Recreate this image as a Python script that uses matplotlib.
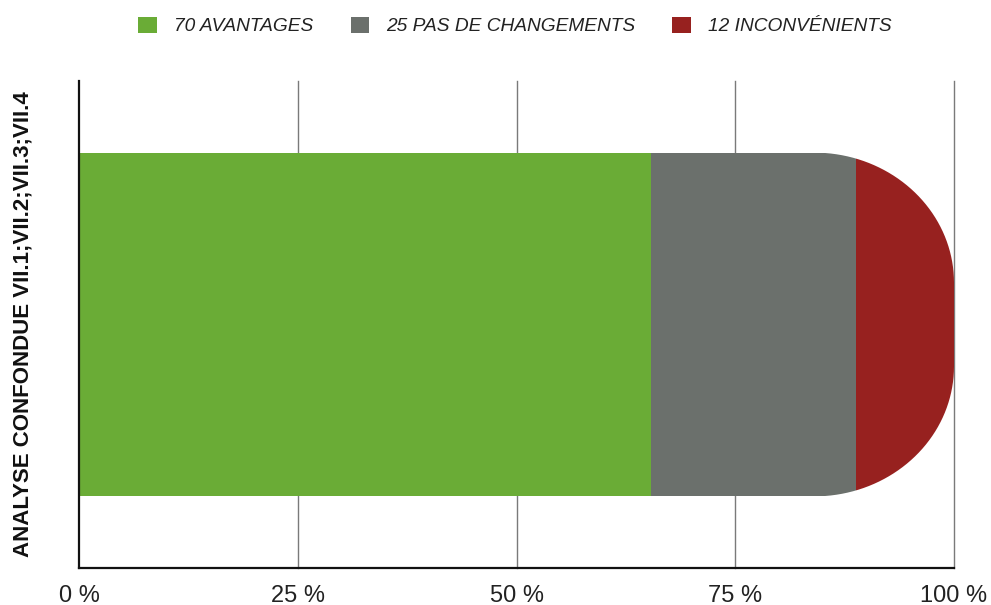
import numpy as np
import matplotlib
matplotlib.use("Agg")
import matplotlib.pyplot as plt
from matplotlib.patches import Patch, PathPatch
from matplotlib.path import Path

plt.rcParams['font.family'] = ['Liberation Sans', 'DejaVu Sans']

category = "ANALYSE CONFONDUE VII.1;VII.2;VII.3;VII.4"
series_labels = ["70 AVANTAGES", "25 PAS DE CHANGEMENTS", "12 INCONVÉNIENTS"]
series_values = [70, 25, 12]
series_colors = ["#6aac36", "#6b706c", "#97211f"]
x_ticks = [0, 25, 50, 75, 100]
x_tick_labels = ["0 %", "25 %", "50 %", "75 %", "100 %"]

W, H = 991, 605
fig = plt.figure(figsize=(W / 100, H / 100), dpi=100)
ax = fig.add_axes([79 / W, 1 - 568 / H, (954 - 79) / W, (568 - 81) / H])

total = sum(series_values)
pcts = [v / total * 100 for v in series_values]

y0 = 0.5
bar_h = 0.706
ax.set_xlim(0, 100)
ax.set_ylim(0, 1)

# rounded right end clip path (elliptical corners)
rx, ry = 16.0, 0.267
yb, yt = y0 - bar_h / 2, y0 + bar_h / 2
t1 = np.linspace(np.pi / 2, 0, 40)
t2 = np.linspace(0, -np.pi / 2, 40)
pts = [(0, yb), (0, yt), (100 - rx, yt)]
pts += [(100 - rx + rx * np.cos(t), yt - ry + ry * np.sin(t)) for t in t1]
pts += [(100 - rx + rx * np.cos(t), yb + ry + ry * np.sin(t)) for t in t2]
pts += [(0, yb)]
clip = PathPatch(Path(pts, closed=True), transform=ax.transData,
                 facecolor='none', edgecolor='none')
ax.add_patch(clip)

left = 0
for lab, p, c in zip(series_labels, pcts, series_colors):
    bars = ax.barh([y0], [p], left=[left], height=bar_h, color=c,
                   label=lab, zorder=3, linewidth=0)
    for b in bars:
        b.set_clip_path(clip)
    left += p

for x in x_ticks[1:]:
    ax.axvline(x, color="#7a7a7a", lw=1.0, zorder=1, clip_on=False)

ax.set_xticks(x_ticks, x_tick_labels, fontsize=17, color="#222222")
ax.set_yticks([y0], [category], rotation=90, va='center',
              fontsize=16, fontweight='bold', color="#111111")
ax.tick_params(axis='x', length=0, pad=12)
ax.tick_params(axis='y', length=0, pad=33)

for s in ['top', 'right']:
    ax.spines[s].set_visible(False)
for s in ['left', 'bottom']:
    ax.spines[s].set_color("#111111")
    ax.spines[s].set_linewidth(1.6)
    ax.spines[s].set_zorder(5)

handles = [Patch(facecolor=c, edgecolor='none') for c in series_colors]
leg = fig.legend(handles, series_labels, loc='center', ncol=3,
                 bbox_to_anchor=(515 / W, 1 - 26 / H), frameon=False,
                 prop={'size': 13.8, 'style': 'italic'},
                 handlelength=0.95, handleheight=0.95,
                 handletextpad=0.9, columnspacing=1.95)
for t in leg.get_texts():
    t.set_color("#222222")

fig.savefig("out.png", dpi=100)
